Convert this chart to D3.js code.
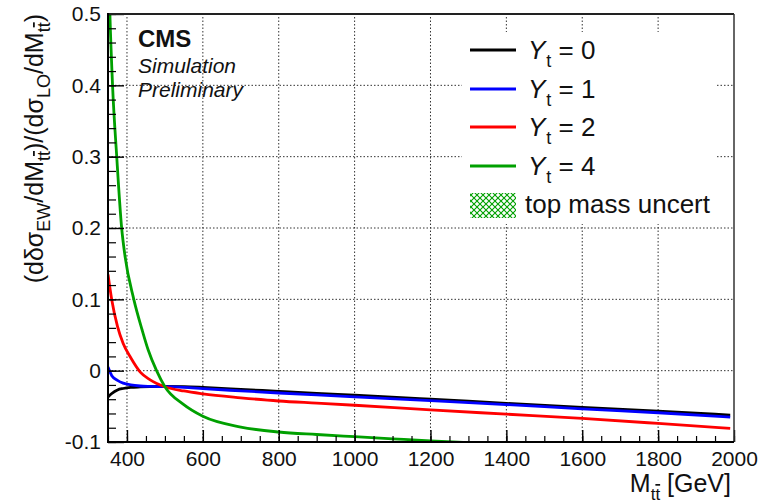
<!DOCTYPE html>
<html>
<head>
<meta charset="utf-8">
<script src="https://cdn.jsdelivr.net/npm/d3@7"></script>
<style>
  html, body { margin: 0; padding: 0; background: #fff; }
  text { font-family: "Liberation Sans", Arial, Helvetica, sans-serif; }
</style>
</head>
<body>
<svg id="chart" width="777" height="503"></svg>
<script>
// ---------------- data ----------------
const massGrid = [350, 360, 375, 390, 410, 435, 460, 500, 550, 600, 700, 800, 900, 1000, 1200, 1400, 1600, 1800, 1990];
const valYt0 = [-0.037, -0.032, -0.027, -0.025, -0.0235, -0.0228, -0.0224, -0.0222, -0.0225, -0.0235, -0.0262, -0.029, -0.0318, -0.0344, -0.040, -0.0458, -0.0514, -0.0568, -0.0622];
const valYt1 = [0.005, -0.007, -0.0135, -0.0175, -0.020, -0.0215, -0.0221, -0.0225, -0.0235, -0.0252, -0.0283, -0.0313, -0.034, -0.0366, -0.042, -0.0475, -0.0535, -0.059, -0.065];
const valYt2 = [0.135, 0.099, 0.062, 0.038, 0.018, -0.002, -0.0125, -0.0225, -0.0285, -0.0325, -0.038, -0.0425, -0.0455, -0.0485, -0.055, -0.061, -0.067, -0.074, -0.081];
const massYt4 = [352, 355, 362, 373, 386, 395, 418, 440, 456, 478, 500, 548, 600, 700, 800, 900, 1000, 1100, 1200, 1300, 1400, 1600, 1800, 1990];
const valYt4 = [0.56, 0.50, 0.40, 0.30, 0.20, 0.16, 0.10, 0.057, 0.029, 0.0, -0.0225, -0.047, -0.064, -0.079, -0.086, -0.0895, -0.0925, -0.0955, -0.0985, -0.101, -0.1035, -0.108, -0.112, -0.116];

const seriesNames = ["0", "1", "2", "4"];
const seriesColors = ["#000000", "#0000ff", "#ff0000", "#00a000"];
const xTickValues = [400, 600, 800, 1000, 1200, 1400, 1600, 1800, 2000];
const xTickLabels = ["400", "600", "800", "1000", "1200", "1400", "1600", "1800", "2000"];
const yTickValues = [-0.1, 0, 0.1, 0.2, 0.3, 0.4, 0.5];
const yTickLabels = ["-0.1", "0", "0.1", "0.2", "0.3", "0.4", "0.5"];
const bandLabel = "top mass uncert";

// ---------------- layout ----------------
const L = 108, R = 734, T = 14, B = 442;
const svg = d3.select("#chart");
const x = d3.scaleLinear().domain([350, 2000]).range([L, R]);
const y = d3.scaleLinear().domain([-0.1, 0.5]).range([B, T]);

svg.append("rect").attr("width", 777).attr("height", 503).attr("fill", "#fff");

// grid
const gridG = svg.append("g").attr("stroke", "#333").attr("stroke-width", 1).attr("stroke-dasharray", "1.5,2");
xTickValues.filter(v => v > 350 && v < 2000).forEach(v => {
  gridG.append("line").attr("x1", x(v)).attr("x2", x(v)).attr("y1", B).attr("y2", T);
});
yTickValues.filter(v => v > -0.1 && v < 0.5).forEach(v => {
  gridG.append("line").attr("x1", L).attr("x2", R).attr("y1", y(v)).attr("y2", y(v));
});

// clip
svg.append("clipPath").attr("id", "plotclip").append("rect")
  .attr("x", L).attr("y", T).attr("width", R - L).attr("height", B - T);

const line = d3.line().x(d => x(d[0])).y(d => y(d[1])).curve(d3.curveMonotoneX);
const seriesData = [
  d3.zip(massGrid, valYt0),
  d3.zip(massGrid, valYt1),
  d3.zip(massGrid, valYt2),
  d3.zip(massYt4, valYt4)
];
const curves = svg.append("g").attr("clip-path", "url(#plotclip)");
seriesData.forEach((d, i) => {
  curves.append("path").datum(d).attr("d", line)
    .attr("fill", "none").attr("stroke", seriesColors[i]).attr("stroke-width", 2.8);
});

// axes: minor ticks
const yMinor = d3.range(-0.1, 0.5001, 0.02).map(v => +v.toFixed(2));
svg.append("g").attr("transform", `translate(${L},0)`)
  .call(d3.axisLeft(y).tickValues(yMinor).tickSize(-8).tickFormat(""))
  .call(g => g.select(".domain").remove())
  .selectAll("line").attr("stroke", "#000").attr("stroke-width", 1.2);
const xMinor = d3.range(350, 2001, 50);
svg.append("g").attr("transform", `translate(0,${B})`)
  .call(d3.axisBottom(x).tickValues(xMinor).tickSize(-6).tickFormat(""))
  .call(g => g.select(".domain").remove())
  .selectAll("line").attr("stroke", "#000").attr("stroke-width", 1.2);

// major ticks + labels
const yAxis = svg.append("g").attr("transform", `translate(${L},0)`)
  .call(d3.axisLeft(y).tickValues(yTickValues).tickSize(-16).tickPadding(7)
    .tickFormat((d, i) => yTickLabels[i]));
yAxis.select(".domain").remove();
yAxis.selectAll("line").attr("stroke", "#000").attr("stroke-width", 1.4);
yAxis.selectAll("text").attr("font-size", 21).attr("fill", "#111")
  .style("font-family", '"Liberation Sans", Arial, sans-serif');

const xAxis = svg.append("g").attr("transform", `translate(0,${B})`)
  .call(d3.axisBottom(x).tickValues(xTickValues).tickSize(-12).tickPadding(9)
    .tickFormat((d, i) => xTickLabels[i]));
xAxis.select(".domain").remove();
xAxis.selectAll("line").attr("stroke", "#000").attr("stroke-width", 1.4);
xAxis.selectAll("text").attr("font-size", 21).attr("fill", "#111")
  .style("font-family", '"Liberation Sans", Arial, sans-serif');

// frame
svg.append("line").attr("x1", L - 1).attr("x2", R).attr("y1", T).attr("y2", T).attr("stroke", "#222").attr("stroke-width", 2);
svg.append("line").attr("x1", R).attr("x2", R).attr("y1", T).attr("y2", B).attr("stroke", "#333").attr("stroke-width", 1.5);
svg.append("line").attr("x1", L).attr("x2", L).attr("y1", T - 1).attr("y2", B + 1).attr("stroke", "#000").attr("stroke-width", 2);
svg.append("line").attr("x1", L - 1).attr("x2", R).attr("y1", B).attr("y2", B).attr("stroke", "#000").attr("stroke-width", 2);

// CMS label
svg.append("text").attr("x", 138).attr("y", 47).attr("font-size", 24).attr("font-weight", "bold").attr("fill", "#111").text("CMS");
svg.append("text").attr("x", 138).attr("y", 73).attr("font-size", 21).attr("font-style", "italic").attr("fill", "#111").text("Simulation");
svg.append("text").attr("x", 138).attr("y", 97).attr("font-size", 21).attr("font-style", "italic").attr("fill", "#111").text("Preliminary");

// legend
const defs = svg.append("defs");
const pat = defs.append("pattern").attr("id", "hatch").attr("patternUnits", "userSpaceOnUse")
  .attr("width", 6).attr("height", 6);
pat.append("path").attr("d", "M0,0 L6,6 M6,0 L0,6").attr("stroke", "#00a000").attr("stroke-width", 1.1);

svg.append("rect").attr("x", 462).attr("y", 32).attr("width", 254).attr("height", 192).attr("fill", "#fff");
const legRows = [50, 89, 127, 166];
seriesNames.forEach((n, i) => {
  svg.append("line").attr("x1", 470).attr("x2", 516).attr("y1", legRows[i]).attr("y2", legRows[i])
    .attr("stroke", seriesColors[i]).attr("stroke-width", 2.8);
  const t = svg.append("text").attr("x", 528).attr("y", legRows[i] + 9).attr("font-size", 26).attr("fill", "#111");
  t.append("tspan").attr("font-style", "italic").text("Y");
  t.append("tspan").attr("font-size", 18).attr("dy", 8).attr("dx", 1).text("t");
  t.append("tspan").attr("dy", -8).text(" = " + n);
});
svg.append("rect").attr("x", 470).attr("y", 193).attr("width", 46).attr("height", 25).attr("fill", "url(#hatch)");
svg.append("text").attr("x", 525).attr("y", 213).attr("font-size", 26).attr("fill", "#111").text(bandLabel);

// x title
const xt = svg.append("text").attr("x", 731).attr("y", 492).attr("text-anchor", "end").attr("font-size", 25).attr("fill", "#111");
xt.append("tspan").text("M");
xt.append("tspan").attr("font-size", 17).attr("dy", 8).text("t");
xt.append("tspan").attr("font-size", 17).style("text-decoration", "overline").text("t");
xt.append("tspan").attr("dy", -8).text(" [GeV]");

// y title
const yt = svg.append("text").attr("transform", "translate(43,14) rotate(-90)")
  .attr("text-anchor", "end").attr("font-size", 25).attr("fill", "#111");
yt.append("tspan").text("(d\u03B4\u03C3");
yt.append("tspan").attr("font-size", 18).attr("dy", 7).text("EW");
yt.append("tspan").attr("dy", -7).text("/dM");
yt.append("tspan").attr("font-size", 18).attr("dy", 7).text("t");
yt.append("tspan").attr("font-size", 18).style("text-decoration", "overline").text("t");
yt.append("tspan").attr("dy", -7).text(")/(d\u03C3");
yt.append("tspan").attr("font-size", 18).attr("dy", 7).text("LO");
yt.append("tspan").attr("dy", -7).text("/dM");
yt.append("tspan").attr("font-size", 18).attr("dy", 7).text("t");
yt.append("tspan").attr("font-size", 18).style("text-decoration", "overline").text("t");
yt.append("tspan").attr("dy", -7).text(")");
</script>
</body>
</html>
